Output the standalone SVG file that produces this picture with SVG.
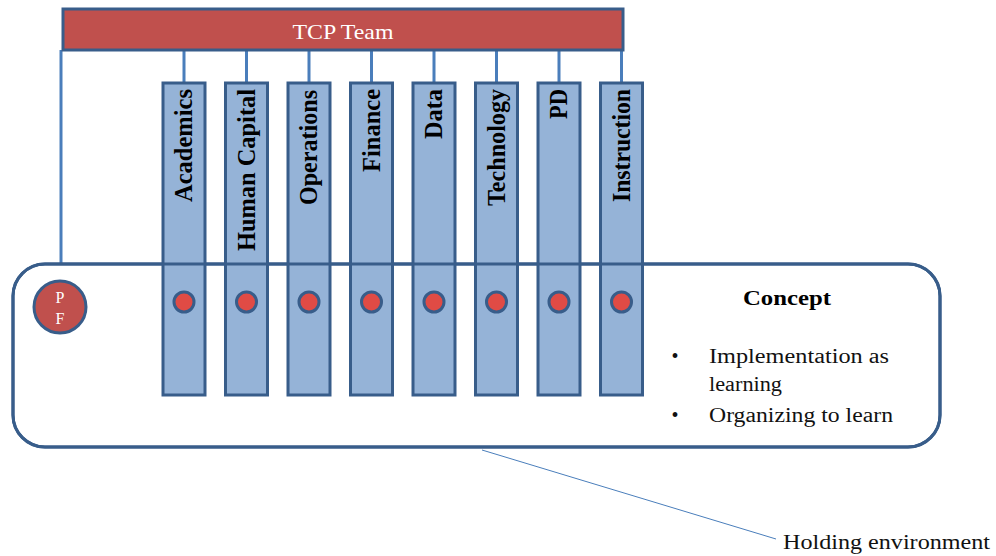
<svg xmlns="http://www.w3.org/2000/svg" width="996" height="556" viewBox="0 0 996 556">
<style>
.stem{stroke:#4A7EBB;stroke-width:3;fill:none}
.col{fill:#95B3D7;stroke:#385D8A;stroke-width:3}
.dot{fill:#E04B45;stroke:#385D8A;stroke-width:3}
.lbl{font-family:"Liberation Serif","Times New Roman",serif;font-weight:bold;font-size:25px;fill:#000}
.txt{font-family:"Liberation Serif","Times New Roman",serif;font-size:20px;fill:#111}
.env{fill:none;stroke:#385D8A;stroke-width:3}
</style>
<rect width="996" height="556" fill="#ffffff"/>
<g id="connectors">
<path class="stem" d="M61,50 V281"/>
<path class="stem" d="M184,50 V83 M246.5,50 V83 M309,50 V83 M371.5,50 V83 M434,50 V83 M496.5,50 V83 M559,50 V83 M621.5,50 V83"/>
<line x1="482" y1="450" x2="776" y2="539" stroke="#4A7EBB" stroke-width="1"/>
</g>
<g id="tcp-team">
<rect x="63" y="9" width="560" height="41" fill="#C0504D" stroke="#385D8A" stroke-width="3"/>
<text x="343" y="39" text-anchor="middle" textLength="101" lengthAdjust="spacingAndGlyphs" style="font-family:'Liberation Serif','Times New Roman',serif;font-size:21px;fill:#ffffff">TCP Team</text>
</g>
<g id="holding-environment">
<rect x="13" y="264" width="927" height="183" rx="32" ry="32" fill="#ffffff" stroke="#385D8A" stroke-width="3"/>
</g>
<g id="academics"><rect class="col" x="163" y="83" width="42" height="312"/><circle class="dot" cx="184" cy="302" r="10"/><text class="lbl" text-anchor="end" textLength="113" lengthAdjust="spacingAndGlyphs" transform="translate(192,89) rotate(-90)">Academics</text></g>
<g id="human-capital"><rect class="col" x="225.5" y="83" width="42" height="312"/><circle class="dot" cx="246.5" cy="302" r="10"/><text class="lbl" text-anchor="end" textLength="162" lengthAdjust="spacingAndGlyphs" transform="translate(254.5,89) rotate(-90)">Human Capital</text></g>
<g id="operations"><rect class="col" x="288" y="83" width="42" height="312"/><circle class="dot" cx="309" cy="302" r="10"/><text class="lbl" text-anchor="end" textLength="115" lengthAdjust="spacingAndGlyphs" transform="translate(317,90) rotate(-90)">Operations</text></g>
<g id="finance"><rect class="col" x="350.5" y="83" width="42" height="312"/><circle class="dot" cx="371.5" cy="302" r="10"/><text class="lbl" text-anchor="end" textLength="83" lengthAdjust="spacingAndGlyphs" transform="translate(379.5,89) rotate(-90)">Finance</text></g>
<g id="data"><rect class="col" x="413" y="83" width="42" height="312"/><circle class="dot" cx="434" cy="302" r="10"/><text class="lbl" text-anchor="end" textLength="50" lengthAdjust="spacingAndGlyphs" transform="translate(442,89) rotate(-90)">Data</text></g>
<g id="technology"><rect class="col" x="475.5" y="83" width="42" height="312"/><circle class="dot" cx="496.5" cy="302" r="10"/><text class="lbl" text-anchor="end" textLength="117" lengthAdjust="spacingAndGlyphs" transform="translate(504.5,89) rotate(-90)">Technology</text></g>
<g id="pd"><rect class="col" x="538" y="83" width="42" height="312"/><circle class="dot" cx="559" cy="302" r="10"/><text class="lbl" text-anchor="end" textLength="30" lengthAdjust="spacingAndGlyphs" transform="translate(567,89) rotate(-90)">PD</text></g>
<g id="instruction"><rect class="col" x="600.5" y="83" width="42" height="312"/><circle class="dot" cx="621.5" cy="302" r="10"/><text class="lbl" text-anchor="end" textLength="113" lengthAdjust="spacingAndGlyphs" transform="translate(629.5,89) rotate(-90)">Instruction</text></g>
<g id="holding-outline">
<rect class="env" x="13" y="264" width="927" height="183" rx="32" ry="32"/>
</g>
<g id="pf">
<circle cx="60" cy="307" r="26" fill="#C0504D" stroke="#385D8A" stroke-width="3"/>
<text x="60" y="303" text-anchor="middle" style="font-family:'Liberation Serif','Times New Roman',serif;font-size:16px;fill:#ffffff">P</text>
<text x="60" y="324" text-anchor="middle" style="font-family:'Liberation Serif','Times New Roman',serif;font-size:16px;fill:#ffffff">F</text>
</g>
<g id="concept">
<text x="787" y="305" text-anchor="middle" textLength="88" lengthAdjust="spacingAndGlyphs" style="font-family:'Liberation Serif','Times New Roman',serif;font-weight:bold;font-size:22px;fill:#000">Concept</text>
<text class="txt" x="675" y="363" text-anchor="middle">•</text>
<text class="txt" x="709" y="363" textLength="180" lengthAdjust="spacingAndGlyphs">Implementation as</text>
<text class="txt" x="709" y="391" textLength="73" lengthAdjust="spacingAndGlyphs">learning</text>
<text class="txt" x="675" y="422" text-anchor="middle">•</text>
<text class="txt" x="709" y="422" textLength="184" lengthAdjust="spacingAndGlyphs">Organizing to learn</text>
</g>
<g id="holding-label">
<text class="txt" x="783" y="549" textLength="207" lengthAdjust="spacingAndGlyphs" style="font-size:21px">Holding environment</text>
</g>
</svg>
